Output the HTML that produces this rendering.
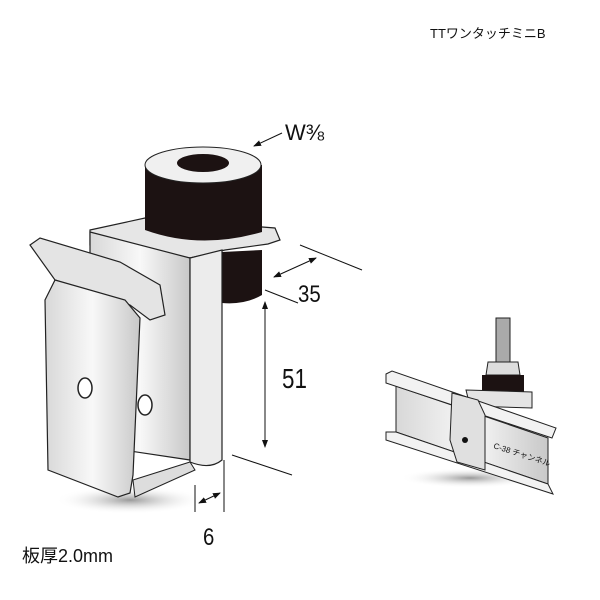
<!DOCTYPE html>
<html><head><meta charset="utf-8"><style>
body{margin:0;background:#fff;width:600px;height:600px;overflow:hidden}
svg{display:block}
text{font-family:"Liberation Sans","Noto Sans CJK JP",sans-serif;fill:#111}
</style></head><body>
<svg width="600" height="600" viewBox="0 0 600 600">
<defs>
<linearGradient id="m" x1="0" x2="1"><stop offset="0" stop-color="#d8d8d8"/><stop offset=".5" stop-color="#f8f8f8"/><stop offset="1" stop-color="#c8c8c8"/></linearGradient>
<radialGradient id="sh" cx=".5" cy=".5" r=".5"><stop offset="0" stop-color="#999"/><stop offset="1" stop-color="#fff" stop-opacity="0"/></radialGradient>
<marker id="a" markerWidth="8" markerHeight="8" refX="7" refY="4" orient="auto"><path d="M0,1 L8,4 L0,7z" fill="#111"/></marker>
<marker id="b" markerWidth="8" markerHeight="8" refX="1" refY="4" orient="auto"><path d="M8,1 L0,4 L8,7z" fill="#111"/></marker>
</defs>
<text x="430" y="38" font-size="13">TTワンタッチミニB</text>
<ellipse cx="130" cy="500" rx="75" ry="14" fill="url(#sh)"/>
<path d="M222,252 L262,250 L262,295 Q245,305 222,303z" fill="#1c1212"/>
<path d="M90,230 L145,218 L275,228 L280,240 L268,244 L225,250 L190,258 L90,245z" fill="#e6e6e6" stroke="#222" stroke-width="1.2"/>
<path d="M145,165 L145,230 Q200,250 262,232 L262,165z" fill="#1c1212"/>
<ellipse cx="203" cy="165" rx="58" ry="18" fill="#f0f0f0" stroke="#222"/>
<ellipse cx="203" cy="163" rx="26" ry="9" fill="#1c1212"/>
<path d="M90,232 L190,258 L190,460 L90,445z" fill="url(#m)" stroke="#222" stroke-width="1.2"/>
<path d="M190,258 L222,250 L222,460 Q210,470 190,462z" fill="#ececec" stroke="#222" stroke-width="1.2"/>
<path d="M30,245 L40,238 L120,262 L160,285 L165,315 L150,320 L130,305 L55,280z" fill="#e4e4e4" stroke="#222" stroke-width="1.2"/>
<path d="M45,300 L55,280 L125,300 L140,318 L133,475 L130,493 L118,497 L48,470z" fill="url(#m)" stroke="#222" stroke-width="1.2"/>
<path d="M133,480 L190,462 L195,470 L135,497z" fill="#ddd" stroke="#222"/>
<ellipse cx="85" cy="388" rx="7" ry="10" fill="#fff" stroke="#222" stroke-width="1.5"/>
<ellipse cx="145" cy="405" rx="7" ry="10" fill="#fff" stroke="#222" stroke-width="1.5"/>
<text x="285" y="140" font-size="22">W⅜</text>
<line x1="282" y1="133" x2="254" y2="146" stroke="#111" marker-end="url(#a)"/>
<line x1="300" y1="245" x2="362" y2="270" stroke="#111"/>
<line x1="265" y1="290" x2="298" y2="303" stroke="#111"/>
<line x1="274" y1="277" x2="316" y2="258" stroke="#111" marker-start="url(#b)" marker-end="url(#a)"/>
<text x="298" y="302" font-size="24" transform="translate(298 302) scale(.85 1) translate(-298 -302)">35</text>
<line x1="265" y1="302" x2="265" y2="447" stroke="#111" marker-start="url(#b)" marker-end="url(#a)"/>
<text x="282" y="388" font-size="28" transform="translate(282 388) scale(.8 1) translate(-282 -388)">51</text>
<line x1="232" y1="455" x2="292" y2="475" stroke="#111"/>
<line x1="195" y1="485" x2="195" y2="512" stroke="#111"/>
<line x1="224" y1="460" x2="224" y2="512" stroke="#111"/>
<line x1="199" y1="503" x2="220" y2="493" stroke="#111" marker-start="url(#b)" marker-end="url(#a)"/>
<text x="203" y="545" font-size="24" transform="translate(203 545) scale(.85 1) translate(-203 -545)">6</text>
<text x="22" y="562" font-size="18">板厚2.0mm</text>
<!-- small product -->
<ellipse cx="470" cy="478" rx="70" ry="10" fill="url(#sh)"/>
<rect x="496" y="318" width="14" height="45" fill="#aaa" stroke="#222"/>
<path d="M488,362 L518,362 L520,375 L486,375z" fill="#ddd" stroke="#222"/>
<path d="M482,375 L524,375 L524,398 Q503,408 482,398z" fill="#1c1212"/>
<path d="M466,390 L532,392 L532,408 L470,406z" fill="#e4e4e4" stroke="#222"/>
<path d="M396,386 L548,438 L548,484 L396,432z" fill="url(#m)" stroke="#222"/>
<path d="M386,374 L392,371 L556,428 L552,438 L386,383z" fill="#f2f2f2" stroke="#222"/>
<path d="M386,432 L396,432 L548,484 L553,494 L386,440z" fill="#f2f2f2" stroke="#222"/>
<path d="M452,393 L478,400 L485,415 L485,470 L457,462 L450,440z" fill="#e0e0e0" stroke="#222"/>
<circle cx="465" cy="440" r="3" fill="#111"/>
<text x="493" y="448" font-size="8" transform="rotate(18 493 448)">C-38 チャンネル</text>
</svg>
</body></html>
